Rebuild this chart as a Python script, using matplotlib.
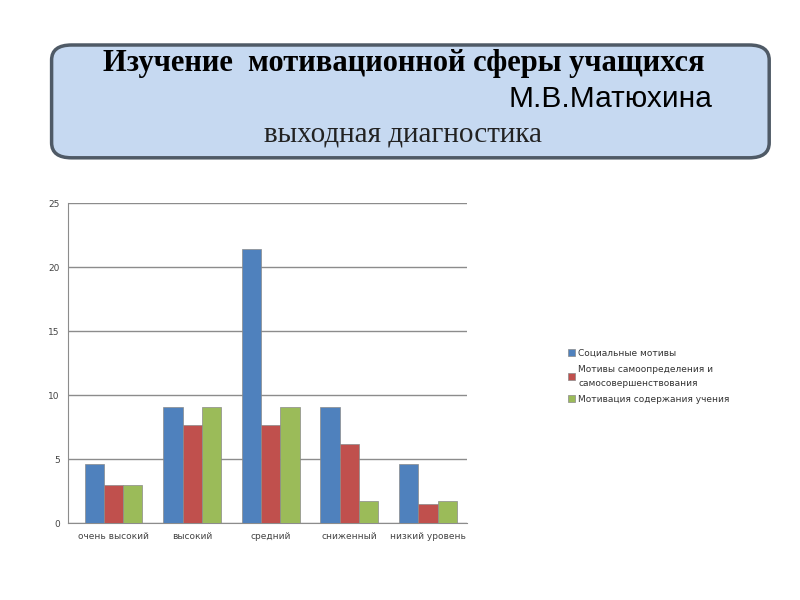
import matplotlib
matplotlib.use('Agg')
import matplotlib.pyplot as plt
from matplotlib.patches import FancyBboxPatch
import numpy as np

categories = ['очень высокий', 'высокий', 'средний', 'сниженный', 'низкий уровень']
social = [4.6, 9.1, 21.4, 9.1, 4.6]
selfdet = [3.0, 7.7, 7.7, 6.2, 1.5]
content = [3.0, 9.1, 9.1, 1.7, 1.7]
series_names = ['Социальные мотивы',
                'Мотивы самоопределения и\nсамосовершенствования',
                'Мотивация содержания учения']
colors = ['#4f81bd', '#c0504d', '#9bbb59']
yticks = [0, 5, 10, 15, 20, 25]

fig = plt.figure(figsize=(8, 6), dpi=100)

# title box
box = FancyBboxPatch((0.0645, 0.737), 0.897, 0.188, boxstyle='round,pad=0,rounding_size=0.025',
                     transform=fig.transFigure, facecolor='#c6d9f1', edgecolor='#4f5a66',
                     linewidth=2.5, zorder=1)
fig.patches.append(box)
fig.text(0.505, 0.895, 'Изучение  мотивационной сферы учащихся', ha='center', va='center',
         fontsize=22, fontweight='bold', family='Liberation Serif')
fig.text(0.891, 0.835, 'М.В.Матюхина', ha='right', va='center', fontsize=21.5,
         family='Liberation Sans')
fig.text(0.504, 0.776, 'выходная диагностика', ha='center', va='center', fontsize=21,
         family='Liberation Serif', color='#222222')

ax = fig.add_axes([0.085, 0.128, 0.499, 0.533])
x = np.arange(len(categories))
w = 0.245
for i, (vals, name) in enumerate(zip([social, selfdet, content], series_names)):
    ax.bar(x + (i - 1) * w, vals, w, color=colors[i], edgecolor='#8a8a8a', linewidth=0.5,
           label=name, zorder=3)

ax.set_ylim(0, 25)
ax.set_xlim(-0.58, len(categories) - 0.5)
ax.set_yticks(yticks)
ax.set_xticks(x)
ax.set_xticklabels(categories)
ax.tick_params(axis='both', length=0, labelsize=6.5, colors='#444444', pad=6)
ax.yaxis.grid(True, color='#8c8c8c', linewidth=1, zorder=0)
for s in ['top', 'right']:
    ax.spines[s].set_visible(False)
ax.spines['left'].set_color('#8c8c8c')
ax.spines['bottom'].set_color('#8c8c8c')

handles, labels = ax.get_legend_handles_labels()
leg = fig.legend(handles, labels, loc='center left', bbox_to_anchor=(0.7, 0.373), frameon=False,
                 fontsize=6.5, handlelength=0.8, handleheight=0.8, handletextpad=0.3,
                 labelspacing=0.8)
for t in leg.get_texts():
    t.set_linespacing(1.7)
    t.set_color('#333333')

fig.savefig('out.png', dpi=100)
